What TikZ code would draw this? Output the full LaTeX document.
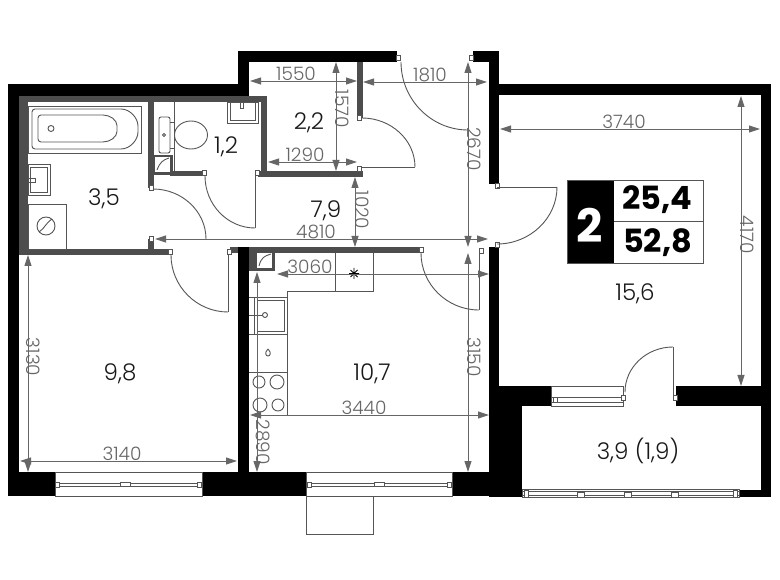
\documentclass[tikz,border=0pt]{standalone}
\usepackage{fontspec}
\setmainfont{Poppins}
\newfontfamily\lightfont{Poppins Light}
\usetikzlibrary{arrows.meta,calc}
\definecolor{wallgray}{HTML}{4D4D4D}
\definecolor{dimgray}{HTML}{666666}
\definecolor{fixgray}{HTML}{555555}
\tikzset{
  wall/.style={fill=black,draw=none},
  gwall/.style={fill=wallgray,draw=none},
  fix/.style={draw=fixgray,line width=0.9pt},
  dimline/.style={draw=dimgray,line width=0.9pt,{Triangle[length=11pt,width=7pt]}-{Triangle[length=11pt,width=7pt]}},
  dimtext/.style={text=dimgray,font=\lightfont\fontsize{18.5}{18.5}\selectfont,inner sep=0pt},
  dimtextv/.style={dimtext,rotate=-90},
  area/.style={text=black!90,font=\lightfont\fontsize{23}{23}\selectfont,inner sep=0pt},
  big/.style={text=black,font=\fontsize{32}{32}\selectfont\bfseries,inner sep=0pt},
  post/.style={draw=fixgray,fill=white,line width=0.6pt}
}
\newcommand\qarc[6]{\draw[fix] (#1,#2) .. controls ($(#1,#2)!.55!(#3,#4)$) and ($(#5,#6)!.55!(#3,#4)$) .. (#5,#6);}
\newcommand\post[2]{\draw[post] (#1-2,#2-2.5) rectangle (#1+2,#2+2.5);}
\newcommand\win[6]{%
  \draw[fix,fill=white] (#1,#3) rectangle (#2,#4);
  \draw[fix] (#1,#5) -- (#2,#5) (#1,#6) -- (#2,#6);}
\begin{document}
\begin{tikzpicture}[x=1pt,y=-1pt]
\useasboundingbox (0,0) rectangle (780,580);
\fill[white] (0,0) rectangle (780,580);

% gray walls
\fill[gwall] (19,96) rectangle (267,102);
\fill[gwall] (19,96) rectangle (28,255);
\fill[gwall] (19,249) rectangle (168,255);
\fill[gwall] (147.5,96) rectangle (154,188);
\fill[gwall] (148,239) rectangle (154,250);
\fill[gwall] (261,96) rectangle (267,177);
\fill[gwall] (258,171) rectangle (363,177);
\fill[gwall] (170,171) rectangle (204,176);
\fill[gwall] (154,155) rectangle (173,175);
\fill[white] (155,157) rectangle (170,172);
\fill[gwall] (357,62) rectangle (363,118);
\fill[gwall] (230,247) rectangle (420,253);
\fill[gwall] (249,253) rectangle (275,271);
\fill[white] (257,253) rectangle (272,268);

% black walls
\fill[wall] (8,84) rectangle (19,496);
\fill[wall] (8,84) rectangle (249,96);
\fill[wall] (238,51) rectangle (249,96);
\fill[wall] (238,51) rectangle (397,62);
\fill[wall] (473,51) rectangle (499,62);
\fill[wall] (489,51) rectangle (499,184);
\fill[wall] (499,84) rectangle (771,95);
\fill[wall] (761,84) rectangle (771,497);
\fill[wall] (238,247) rectangle (249,472);
\fill[wall] (489,247) rectangle (499,472);
\fill[wall] (8,472) rectangle (520,496);
\fill[wall] (489,386) rectangle (522,497);
\fill[wall] (489,386) rectangle (551,406);
\fill[wall] (676,386) rectangle (771,406);
\fill[wall] (739,490) rectangle (771,497);

% windows
\win{55}{202}{472}{496}{483}{486}
\post{57.5}{484.5}\draw[post] (120,482.5) rectangle (130,486.5);\post{199.5}{484.5}
\win{306}{452}{472}{496}{483}{486}
\post{309}{484.5}\draw[post] (374,482.5) rectangle (384,486.5);\post{449.5}{484.5}
\draw[fix] (306,496) -- (306,534) -- (373,534) -- (373,496);
\win{551}{623}{386}{406}{397}{402}
\post{555}{399.5}
\win{522}{739}{489}{497}{491.5}{495}
\draw[post] (524,490) rectangle (528,497);\draw[post] (577,492) rectangle (584,497);\draw[post] (624,492) rectangle (631,497);\draw[post] (671,492) rectangle (678,497);\draw[post] (733,490) rectangle (737,497);

% doors
\post{151}{188}\post{151}{239}
\qarc{153}{189}{206}{189}{206}{239}
\post{204}{173}\post{257}{173}
\draw[fix] (255,176) -- (255,228);
\qarc{205}{176}{205}{228}{255}{228}
\post{170}{252}\post{229}{252}
\draw[fix] (228,255) -- (228,312);
\qarc{171}{255}{171}{312}{228}{312}
\post{421}{250}\post{481}{251}
\draw[fix] (479,254) -- (479,310);
\qarc{421}{253}{421}{310}{479}{310}
\post{398}{58}\post{471}{58}
\qarc{401}{62}{401}{130}{468}{130}
\post{359}{118}\post{359}{169}
\draw[fix] (362,167) -- (415,167);
\qarc{362}{118}{415}{118}{415}{167}
\post{497}{186}\post{497}{245}
\draw[fix] (497,187) -- (557,187);
\qarc{557}{187}{557}{244}{497}{244}
\post{623}{398}\post{675}{398}
\draw[fix] (673,347) -- (673,395);
\qarc{625}{392}{625}{347}{673}{347}

% bath fixtures
\draw[fix] (28,106) rectangle (141,153);
\draw[fix,rounded corners=3pt] (32,109) -- (118,109) .. controls (130,109) and (138,118) .. (138,129) .. controls (138,140) and (130,149) .. (118,149) -- (32,149) -- cycle;
\draw[fix,rounded corners=3pt] (38,115) -- (100,115) .. controls (110,115) and (117,120) .. (117,128.5) .. controls (117,137) and (110,142) .. (100,142) -- (38,142) -- cycle;
\draw[fix] (51,128.5) circle (3);
\draw[fix] (28,164) rectangle (50,195);
\draw[fix] (30,167) rectangle (47,192);
\draw[fix] (28,178) rectangle (35,182);
\draw[fix] (28,204) rectangle (66,249);
\draw[fix] (46,226) circle (9);
\draw[fix] (39,232) .. controls (45,228) and (45,224) .. (52,219);
% shafts
\draw[fix] (157,170) .. controls (160,162) and (163,160) .. (169,158);
\draw[fix] (259,266) .. controls (261,258) and (264,256) .. (271,254);
% WC
\draw[fix,rounded corners=2pt] (159,117) rectangle (170,153);
\draw[fix] (164,135) circle (1.5);
\draw[fix] (170,122) -- (174,122) (170,148) -- (174,148);
\draw[fix] (174,102) -- (174,171);
\draw[fix] (191,135) ellipse (16.5 and 14);
\draw[fix] (227,102) rectangle (258,123);
\draw[fix] (230,102) rectangle (255,120);
\draw[fix] (240,102) rectangle (243,108);
% kitchen
\draw[fix] (335,253) -- (335,291) (373,253) -- (373,291) -- (287,291) -- (287,415);
\draw[fix] (249,297) -- (287,297) (249,334) -- (287,334) (249,372) -- (287,372);
\draw[fix] (254,297) -- (254,334);
\draw[fix] (257,300) rectangle (284,331);
\draw[fix] (249,315) -- (263,315);
\draw[fix,fill=white] (265,315) circle (2.5);
\draw[fix] (268,349) .. controls (264,353) and (266,356) .. (268,356) .. controls (270,356) and (272,353) .. (268,349);
\draw[fix] (259,382) circle (6);
\draw[fix] (277,382) circle (7);
\draw[fix] (260,405) circle (7);
\draw[fix] (278,405) circle (6);
\draw[line width=0.9pt] (354,268) -- (354,279) (349,273.5) -- (359,273.5) (350.5,270) -- (357.5,277) (350.5,277) -- (357.5,270);

% dimensions
\draw[dimline] (250,81) -- (357,81);
\node[dimtext] (d1550) at (296,73.5) {1550};
\draw[dimline] (363,82) -- (487,82);
\node[dimtext] (d1810) at (430,75) {1810};
\draw[dimline] (336,62) -- (336,171);
\node[dimtextv] (d1570) at (342,109) {1570};
\draw[dimline] (268,162) -- (357,162);
\node[dimtext] (d1290) at (305,155) {1290};
\draw[dimline] (355,177) -- (355,247);
\node[dimtextv] (d1020) at (362,210) {1020};
\draw[dimline] (468,62) -- (468,247);
\node[dimtextv] (d2670) at (474,149) {2670};
\draw[dimline] (155,239) -- (488,239);
\node[dimtext] (d4810) at (316,232) {4810};
\draw[dimline] (277,274) -- (489,274);
\node[dimtext] (d3060) at (310,267) {3060};
\draw[dimline] (468,253) -- (468,472);
\node[dimtextv] (d3150) at (474,357) {3150};
\draw[dimline] (250,415) -- (489,415);
\node[dimtext] (d3440) at (364,408) {3440};
\draw[dimline] (257,272) -- (257,472);
\node[dimtextv] (d2890) at (263,442) {2890};
\draw[dimline] (28,255) -- (28,472);
\node[dimtextv] (d3130) at (33,357) {3130};
\draw[dimline] (20,461) -- (237,461);
\node[dimtext] (d3140) at (122,454) {3140};
\draw[dimline] (500,129) -- (760,129);
\node[dimtext] (d3740) at (624,122) {3740};
\draw[dimline] (741,96) -- (741,386);
\node[dimtextv] (d4170) at (747,235) {4170};

% areas
\node[area] (a22) at (309,123) {2,2};
\node[area] (a12) at (226,147) {1,2};
\node[area] (a35) at (104,199) {3,5};
\node[area] (a79) at (326,211) {7,9};
\node[area] (a156) at (635,294) {15,6};
\node[area] (a98) at (120,374) {9,8};
\node[area] (a107) at (372,374) {10,7};
\node[area] (a39) at (638,451) {3,9 (1,9)};

% legend
\fill[black] (567,180) rectangle (614,263);
\draw[fixgray,line width=0.9pt] (567,180) rectangle (703,263) (614,221) -- (703,221);
\node[big,text=white,font=\fontsize{46}{46}\selectfont\bfseries] (n2) at (590,225) {2};
\node[big] (v1) at (657.5,200) {25,4};
\node[big] (v2) at (657.5,243) {52,8};
\end{tikzpicture}
\end{document}
